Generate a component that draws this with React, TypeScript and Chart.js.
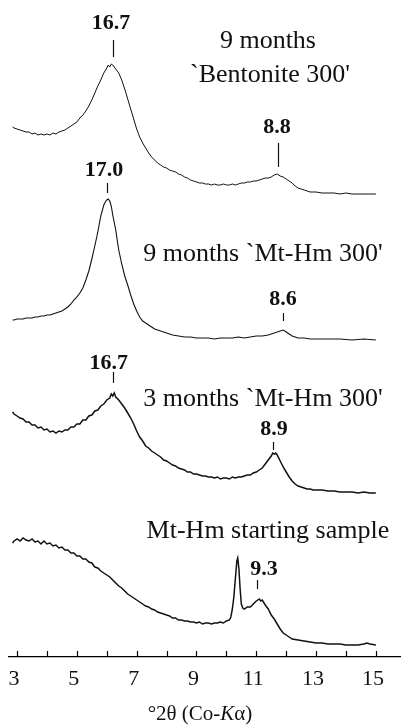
import React, { useEffect, useRef } from "react";
import { Chart, registerables } from "chart.js";

Chart.register(...registerables);

// ---- axis range (°2θ) ----
const X_MIN = 2.73;
const X_MAX = 15.84;
const Y_MIN = 0;
const Y_MAX = 657;

const TICK_VALUES = [3, 4, 5, 6, 7, 8, 9, 10, 11, 12, 13, 14, 15];
const TICK_LABELS = ["3", "", "5", "", "7", "", "9", "", "11", "", "13", "", "15"];

// ---- trace 1: 9 months `Bentonite 300' ----
const bent9Theta = [2.85, 2.9, 3.0, 3.1, 3.2, 3.3, 3.4, 3.5, 3.6, 3.7, 3.8, 3.9, 4.0, 4.1, 4.2, 4.3, 4.4, 4.5, 4.6, 4.7, 4.8, 4.9, 5.0, 5.1, 5.2, 5.3, 5.4, 5.5, 5.6, 5.7, 5.8, 5.9, 6.0, 6.05, 6.1, 6.15, 6.2, 6.25, 6.3, 6.4, 6.5, 6.6, 6.7, 6.8, 6.9, 7.0, 7.1, 7.2, 7.3, 7.4, 7.5, 7.6, 7.7, 7.8, 7.9, 8.0, 8.1, 8.2, 8.3, 8.4, 8.5, 8.6, 8.7, 8.8, 8.9, 9.0, 9.1, 9.2, 9.3, 9.4, 9.5, 9.6, 9.7, 9.8, 9.9, 10.0, 10.1, 10.2, 10.3, 10.4, 10.5, 10.6, 10.7, 10.8, 10.9, 11.0, 11.1, 11.2, 11.3, 11.4, 11.5, 11.6, 11.7, 11.8, 11.9, 12.0, 12.1, 12.2, 12.3, 12.4, 12.5, 12.6, 12.7, 12.8, 12.9, 13.0, 13.2, 13.4, 13.6, 13.8, 14.0, 14.2, 14.4, 14.6, 14.8, 15.0];
const bent9Int = [68, 67, 66, 65, 64, 63, 63, 61, 62, 60, 61, 60, 61, 60, 62, 61, 63, 64, 65, 67, 69, 71, 73, 77, 80, 84, 89, 95, 102, 109, 115, 122, 127, 130, 128, 131, 130, 128, 126, 122, 115, 106, 96, 86, 76, 66, 58, 52, 47, 42, 38, 35, 32, 30, 28, 27, 25, 24, 23, 21, 20, 18, 17, 15, 14, 13, 12, 12, 11, 11, 10, 11, 10, 10, 11, 10, 10, 11, 10, 11, 12, 12, 13, 13, 14, 14, 15, 16, 17, 17, 18, 20, 21, 19, 18, 16, 14, 12, 9, 7, 6, 5, 4, 3, 3, 3, 2, 2, 2, 1, 2, 1, 1, 1, 1, 1];

// ---- trace 2: 9 months `Mt-Hm 300' ----
const mthm9Theta = [2.85, 2.9, 3.0, 3.1, 3.2, 3.3, 3.4, 3.5, 3.6, 3.7, 3.8, 3.9, 4.0, 4.1, 4.2, 4.3, 4.4, 4.5, 4.6, 4.7, 4.8, 4.9, 5.0, 5.1, 5.2, 5.3, 5.4, 5.5, 5.6, 5.7, 5.8, 5.9, 5.95, 6.0, 6.05, 6.1, 6.15, 6.2, 6.3, 6.4, 6.5, 6.6, 6.7, 6.8, 6.9, 7.0, 7.1, 7.2, 7.3, 7.4, 7.5, 7.6, 7.7, 7.8, 7.9, 8.0, 8.2, 8.4, 8.6, 8.8, 9.0, 9.2, 9.4, 9.6, 9.8, 10.0, 10.2, 10.4, 10.6, 10.8, 11.0, 11.2, 11.4, 11.6, 11.7, 11.8, 11.9, 12.0, 12.1, 12.2, 12.3, 12.4, 12.6, 12.8, 13.0, 13.4, 13.8, 14.2, 14.6, 15.0];
const mthm9Int = [20, 20, 21, 21, 21, 22, 22, 22, 23, 23, 24, 24, 25, 25, 26, 27, 28, 29, 31, 33, 36, 40, 43, 47, 52, 60, 69, 81, 94, 108, 124, 135, 138, 140, 141, 139, 134, 125, 110, 90, 76, 64, 55, 45, 36, 29, 23, 19, 17, 15, 13, 11, 10, 9, 8, 7, 5, 4, 3, 3, 2, 2, 2, 1, 2, 2, 2, 3, 2, 3, 4, 4, 5, 7, 8, 9, 10, 8, 6, 4, 3, 2, 2, 1, 1, 1, 1, 0, 1, 0];

// ---- trace 3: 3 months `Mt-Hm 300' ----
const mthm3Theta = [2.85, 2.9, 3.0, 3.1, 3.2, 3.3, 3.4, 3.5, 3.6, 3.7, 3.8, 3.9, 4.0, 4.1, 4.2, 4.3, 4.4, 4.5, 4.6, 4.7, 4.8, 4.9, 5.0, 5.1, 5.2, 5.3, 5.4, 5.5, 5.6, 5.7, 5.8, 5.9, 6.0, 6.1, 6.15, 6.2, 6.25, 6.3, 6.4, 6.5, 6.6, 6.7, 6.8, 6.9, 7.0, 7.1, 7.2, 7.3, 7.4, 7.5, 7.6, 7.7, 7.8, 7.9, 8.0, 8.1, 8.2, 8.3, 8.4, 8.5, 8.6, 8.7, 8.8, 8.9, 9.0, 9.1, 9.2, 9.3, 9.4, 9.5, 9.6, 9.7, 9.8, 9.9, 10.0, 10.1, 10.2, 10.3, 10.4, 10.5, 10.6, 10.7, 10.8, 10.9, 11.0, 11.1, 11.2, 11.3, 11.4, 11.5, 11.55, 11.6, 11.65, 11.7, 11.8, 11.9, 12.0, 12.1, 12.2, 12.3, 12.4, 12.5, 12.6, 12.7, 12.8, 12.9, 13.0, 13.2, 13.4, 13.6, 13.8, 14.0, 14.2, 14.4, 14.6, 14.8, 15.0];
const mthm3Int = [83, 81, 79, 77, 76, 73, 73, 70, 70, 67, 68, 65, 66, 63, 64, 62, 64, 63, 65, 65, 68, 68, 71, 71, 75, 75, 79, 80, 84, 85, 89, 91, 95, 97, 101, 99, 102, 98, 95, 91, 87, 82, 77, 71, 64, 58, 54, 49, 47, 44, 42, 40, 38, 35, 34, 32, 30, 29, 27, 26, 25, 23, 23, 21, 21, 20, 19, 19, 18, 18, 17, 18, 16, 17, 17, 16, 18, 17, 18, 18, 19, 20, 20, 22, 23, 25, 27, 31, 35, 39, 42, 41, 42, 40, 34, 28, 23, 18, 14, 11, 9, 8, 7, 6, 6, 5, 5, 5, 4, 4, 3, 3, 3, 2, 3, 2, 2];

// ---- trace 4: Mt-Hm starting sample ----
const startTheta = [2.85, 2.9, 3.0, 3.1, 3.2, 3.3, 3.4, 3.5, 3.6, 3.7, 3.8, 3.9, 4.0, 4.1, 4.2, 4.3, 4.4, 4.5, 4.6, 4.7, 4.8, 4.9, 5.0, 5.1, 5.2, 5.3, 5.4, 5.5, 5.6, 5.7, 5.8, 5.9, 6.0, 6.1, 6.2, 6.3, 6.4, 6.5, 6.6, 6.7, 6.8, 6.9, 7.0, 7.1, 7.2, 7.3, 7.4, 7.5, 7.6, 7.7, 7.8, 7.9, 8.0, 8.1, 8.2, 8.3, 8.4, 8.5, 8.6, 8.7, 8.8, 8.9, 9.0, 9.1, 9.2, 9.3, 9.4, 9.5, 9.6, 9.7, 9.8, 9.9, 10.0, 10.1, 10.15, 10.2, 10.25, 10.3, 10.35, 10.38, 10.42, 10.46, 10.5, 10.55, 10.6, 10.7, 10.8, 10.9, 11.0, 11.05, 11.1, 11.15, 11.2, 11.3, 11.4, 11.5, 11.6, 11.7, 11.8, 11.9, 12.0, 12.1, 12.2, 12.4, 12.6, 12.8, 13.0, 13.2, 13.4, 13.6, 13.8, 14.0, 14.2, 14.4, 14.6, 14.7, 14.8, 15.0];
const startInt = [104, 106, 108, 106, 109, 107, 106, 108, 105, 106, 103, 106, 103, 104, 101, 102, 99, 100, 97, 97, 94, 94, 91, 91, 88, 88, 85, 84, 80, 79, 76, 74, 72, 70, 67, 64, 61, 59, 56, 53, 51, 49, 47, 45, 43, 41, 40, 38, 37, 35, 34, 33, 32, 31, 29, 29, 27, 27, 26, 26, 25, 25, 24, 25, 23, 24, 24, 23, 24, 24, 25, 24, 26, 27, 30, 38, 50, 68, 86, 89, 78, 58, 43, 39, 38, 40, 40, 43, 46, 47, 48, 46, 47, 42, 38, 32, 28, 23, 18, 14, 12, 10, 8, 7, 6, 5, 4, 4, 3, 3, 3, 2, 2, 2, 3, 4, 3, 2];

// vertical stacking of the four patterns (baseline of each, in y units)
const TRACE_OFFSETS = [462, 317, 162, 10];

// ---- annotations ----
const peakLabels = ["16.7", "8.8", "17.0", "8.6", "16.7", "8.9", "9.3"];
const peakLabelTheta = [6.14, 11.69, 5.91, 11.89, 6.07, 11.59, 11.26];
const peakLabelY = [628, 524, 481, 352, 288, 222, 82];
const peakLineTheta = [6.21, 11.72, 6.01, 11.89, 6.21, 11.56, 11.02];
const peakLineTop = [617, 514, 474, 344, 285, 215, 77];
const peakLineBottom = [600, 490, 464, 336, 274, 207, 68];

const sampleTitles = ["9 months", "`Bentonite 300'", "9 months `Mt-Hm 300'", "3 months `Mt-Hm 300'", "Mt-Hm starting sample"];
const sampleTitleTheta = [11.39, 11.46, 11.22, 11.22, 11.39];
const sampleTitleY = [609, 575, 396, 251, 119];

const SERIF = "'Liberation Serif', 'Times New Roman', serif";

function makeSeries(theta: number[], inten: number[], offset: number) {
  return theta.map((x, i) => ({ x, y: inten[i] + offset }));
}

const annotationPlugin = {
  id: "xrdAnnotations",
  afterDraw(chart: any) {
    const { ctx, scales } = chart;
    const xs = scales.x;
    const ys = scales.y;
    ctx.save();
    // inward tick marks
    ctx.strokeStyle = "#000";
    ctx.lineWidth = 1.2;
    const axisY = xs.top;
    TICK_VALUES.forEach((v) => {
      const px = Math.round(xs.getPixelForValue(v)) + 0.5;
      ctx.beginPath();
      ctx.moveTo(px, axisY);
      ctx.lineTo(px, axisY - 6);
      ctx.stroke();
    });
    // peak lines and labels
    ctx.fillStyle = "#111";
    ctx.strokeStyle = "#111";
    ctx.lineWidth = 1.2;
    ctx.textAlign = "center";
    ctx.textBaseline = "alphabetic";
    ctx.font = `bold 22px ${SERIF}`;
    peakLabels.forEach((t, i) => {
      const lx = Math.round(xs.getPixelForValue(peakLineTheta[i])) + 0.5;
      ctx.beginPath();
      ctx.moveTo(lx, ys.getPixelForValue(peakLineTop[i]));
      ctx.lineTo(lx, ys.getPixelForValue(peakLineBottom[i]));
      ctx.stroke();
      ctx.fillText(t, xs.getPixelForValue(peakLabelTheta[i]), ys.getPixelForValue(peakLabelY[i]));
    });
    // sample titles
    ctx.font = `26px ${SERIF}`;
    sampleTitles.forEach((t, i) => {
      ctx.fillText(t, xs.getPixelForValue(sampleTitleTheta[i]), ys.getPixelForValue(sampleTitleY[i]));
    });
    // axis title with italic K
    const parts = [
      { t: "°2θ (Co-", f: `21px ${SERIF}` },
      { t: "K", f: `italic 21px ${SERIF}` },
      { t: "α)", f: `21px ${SERIF}` },
    ];
    let total = 0;
    parts.forEach((p) => {
      ctx.font = p.f;
      total += ctx.measureText(p.t).width;
    });
    let cx = 200 - total / 2;
    ctx.textAlign = "left";
    parts.forEach((p) => {
      ctx.font = p.f;
      ctx.fillText(p.t, cx, 720);
      cx += ctx.measureText(p.t).width;
    });
    ctx.restore();
  },
};

export default function App() {
  const canvasRef = useRef<HTMLCanvasElement | null>(null);

  useEffect(() => {
    if (!canvasRef.current) return;
    const traces = [
      { theta: bent9Theta, inten: bent9Int, width: 1.0 },
      { theta: mthm9Theta, inten: mthm9Int, width: 1.1 },
      { theta: mthm3Theta, inten: mthm3Int, width: 1.5 },
      { theta: startTheta, inten: startInt, width: 1.5 },
    ];
    const chart = new Chart(canvasRef.current, {
      type: "line",
      data: {
        datasets: traces.map((tr, i) => ({
          data: makeSeries(tr.theta, tr.inten, TRACE_OFFSETS[i]),
          borderColor: "#111",
          borderWidth: tr.width,
          pointRadius: 0,
          tension: 0,
          fill: false,
        })),
      },
      options: {
        animation: false,
        responsive: false,
        layout: { padding: { left: 9, right: 0, top: 0, bottom: 0 } },
        plugins: { legend: { display: false }, tooltip: { enabled: false } },
        scales: {
          x: {
            type: "linear",
            min: X_MIN,
            max: X_MAX,
            afterBuildTicks: (scale: any) => {
              scale.ticks = TICK_VALUES.map((v) => ({ value: v }));
            },
            afterFit: (scale: any) => {
              scale.height = 68;
            },
            grid: { display: false, drawTicks: false },
            border: { display: true, color: "#000", width: 1.3 },
            ticks: {
              autoSkip: false,
              maxRotation: 0,
              minRotation: 0,
              padding: 9,
              labelOffset: -3,
              color: "#111",
              font: { family: SERIF, size: 22 },
              callback: (_v: any, idx: number) => TICK_LABELS[idx],
            },
            title: { display: false },
          },
          y: {
            type: "linear",
            display: false,
            min: Y_MIN,
            max: Y_MAX,
          },
        },
      },
      plugins: [annotationPlugin],
    });
    return () => chart.destroy();
  }, []);

  return (
    <div style={{ position: "fixed", left: 0, top: 0, width: 401, height: 725, background: "#fff" }}>
      <canvas ref={canvasRef} width={401} height={725} style={{ display: "block" }} />
    </div>
  );
}
